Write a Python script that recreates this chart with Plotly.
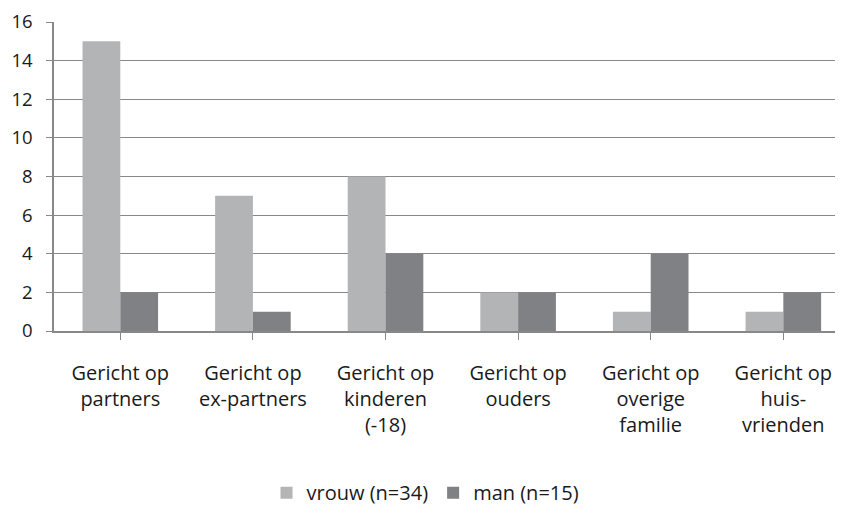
import plotly.graph_objects as go

categories = ["Gericht op<br>partners", "Gericht op<br>ex-partners", "Gericht op<br>kinderen<br>(-18)",
              "Gericht op<br>ouders", "Gericht op<br>overige<br>familie", "Gericht op<br>huis-<br>vrienden"]
vrouw = [15, 7, 8, 2, 1, 1]
man = [2, 1, 4, 2, 4, 2]
y_ticks = [0, 2, 4, 6, 8, 10, 12, 14, 16]

FONT = "Open Sans"
fig = go.Figure()
fig.add_trace(go.Bar(x=list(range(6)), y=vrouw, name="vrouw (n=34)", marker_color="#b3b4b6", marker_line_width=0))
fig.add_trace(go.Bar(x=list(range(6)), y=man, name="man (n=15)", marker_color="#808184", marker_line_width=0))

fig.update_layout(
    width=835, height=497,
    margin=dict(l=46, r=0, t=14, b=174, autoexpand=False),
    paper_bgcolor="white", plot_bgcolor="white",
    barmode="group", bargap=0.43, bargroupgap=0,
    font=dict(family=FONT, size=19, color="#1a1a1a"),
    showlegend=True,
    legend=dict(orientation="h", xref="container", x=0.5, xanchor="center",
                y=-0.46, yanchor="top",
                font=dict(size=20), itemwidth=30, traceorder="normal"),
)
fig.update_xaxes(
    tickmode="array", tickvals=list(range(6)), ticktext=categories,
    range=[-0.5, 5.45], showline=True, linecolor="#888888", linewidth=1.5,
    ticks="outside", tickcolor="#888888", ticklen=7, tickson="boundaries",
    tickfont=dict(size=20), showgrid=False, zeroline=False, automargin=False,
    ticklabelstandoff=16,
)
fig.update_yaxes(
    range=[0, 16], tickvals=y_ticks, showgrid=True, gridcolor="#888888", gridwidth=1.2,
    showline=True, linecolor="#888888", linewidth=1.5, ticks="outside", tickcolor="#888888",
    ticklen=6, tickfont=dict(size=18.5), zeroline=False, automargin=False,
    ticklabelstandoff=10,
)
fig.write_html("out.html")
